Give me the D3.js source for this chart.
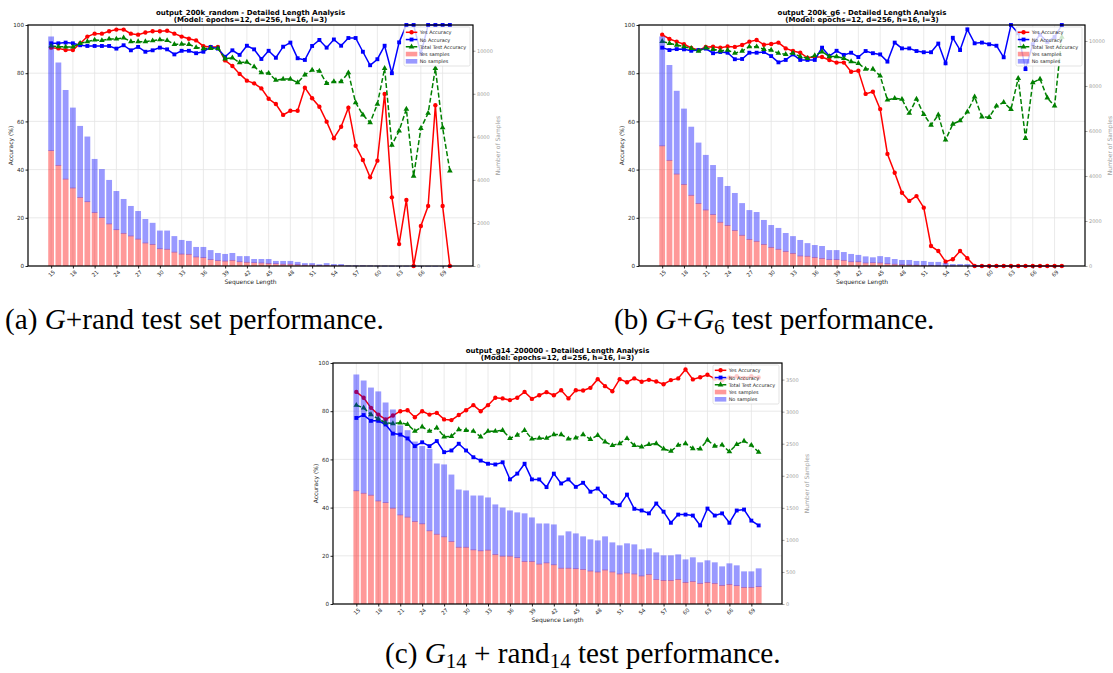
<!DOCTYPE html>
<html>
<head>
<meta charset="utf-8">
<script src="https://cdn.jsdelivr.net/npm/d3@7"></script>
<style>
  body { margin: 0; background: #fff; }
  svg { display: block; }
</style>
</head>
<body>
<svg id="fig" width="1113" height="673"></svg>
<script>
// sequence lengths (x categories)
const lengths = [15, 16, 17, 18, 19, 20, 21, 22, 23, 24, 25, 26, 27, 28, 29, 30, 31, 32, 33, 34,
  35, 36, 37, 38, 39, 40, 41, 42, 43, 44, 45, 46, 47, 48, 49, 50, 51, 52, 53, 54,
  55, 56, 57, 58, 59, 60, 61, 62, 63, 64, 65, 66, 67, 68, 69, 70];
const lengthTicks = [15, 18, 21, 24, 27, 30, 33, 36, 39, 42, 45, 48, 51, 54, 57, 60, 63, 66, 69];
const accTicks = [0, 20, 40, 60, 80, 100];

// (a) output_200k_random
const yesAccA = [90.6, 90.3, 89.6, 89.6, 92.3, 95.2, 96.4, 96.4, 97.4, 98.1,
  98.1, 96.4, 96.0, 96.9, 97.4, 97.4, 97.6, 96.4, 95.2, 94.3,
  93.6, 91.2, 90.9, 90.9, 85.3, 83.0, 79.7, 76.9, 75.8, 73.7,
  69.4, 67.2, 62.7, 64.4, 64.4, 74.0, 69.6, 66.1, 59.9, 53.0,
  57.8, 65.7, 49.9, 44.0, 36.8, 43.7, 71.4, 28.5, 9.1, 27.4,
  0, 16.6, 24.9, 66.7, 24.9, 0];
const noAccA = [92.4, 92.4, 92.7, 92.4, 91.6, 91.3, 91.3, 91.3, 91.3, 90.2,
  91.6, 89.5, 90.9, 88.9, 89.5, 90.6, 89.9, 87.8, 89.3, 89.3,
  88.3, 88.9, 90.9, 90.2, 86.8, 89.5, 87.6, 91.4, 89.9, 85.9,
  89.3, 86.4, 91.0, 92.7, 86.2, 85.5, 91.3, 93.8, 90.6, 94.0,
  91.4, 94.6, 94.6, 88.9, 83.3, 85.8, 91.4, 80.0, 92.8, 100,
  100, 88, 100, 100, 100, 100];
const totalAccA = [91.3, 91.0, 90.9, 90.9, 92.4, 93.1, 93.8, 93.6, 94.2, 94.2,
  94.7, 93.1, 93.1, 93.1, 93.5, 93.9, 93.6, 92.0, 92.1, 92.0,
  90.7, 90.2, 90.3, 90.3, 86.0, 86.4, 84.4, 84.6, 82.7, 80.2,
  80.0, 77.1, 77.6, 77.6, 76.1, 79.3, 81.3, 80.9, 75.8, 76.5,
  76.5, 80.2, 67.8, 62.7, 59.5, 67.2, 82.0, 50.2, 56.1, 65.1,
  37.3, 57.1, 63.4, 82.0, 57.4, 39.5];
const yesSamplesA = [5376, 4693, 4054, 3640, 3203, 3002, 2498, 2262, 1971, 1702,
  1534, 1411, 1266, 1086, 1019, 818, 795, 661, 571, 560,
  437, 403, 314, 269, 246, 280, 213, 190, 168, 157,
  134, 123, 101, 101, 78, 56, 56, 34, 45, 34,
  34, 11, 11, 11, 9, 7, 6, 4, 3, 3,
  2, 2, 2, 1, 1, 0];
const allSamplesA = [10662, 9453, 8176, 7358, 6507, 6014, 4973, 4502, 3998, 3483,
  3114, 2789, 2554, 2184, 2005, 1646, 1646, 1389, 1210, 1165,
  885, 885, 739, 605, 560, 605, 459, 459, 325, 325,
  325, 235, 235, 235, 190, 134, 134, 78, 134, 90,
  90, 34, 34, 34, 28, 22, 20, 17, 13, 13,
  11, 9, 9, 7, 6, 6];
const sampleTicksA = [0, 2000, 4000, 6000, 8000, 10000];

// (b) output_200k_g6
const yesAccB = [96.0, 94.2, 93.1, 92.0, 90.5, 89.6, 90.9, 91.0, 90.6, 91.1,
  90.9, 91.7, 93.1, 93.8, 91.8, 92.1, 92.7, 90.3, 89.2, 88.5,
  86.4, 86.7, 86.7, 85.5, 84.4, 84.4, 80.6, 81.0, 71.4, 72.3,
  65.1, 46.5, 38.7, 30.4, 27.0, 29.0, 24.2, 8.3, 6.2, 1.8,
  2.8, 6.2, 3.2, 0, 0, 0, 0, 0, 0, 0,
  0, 0, 0, 0, 0, 0];
const noAccB = [90.6, 89.6, 90.0, 89.9, 89.3, 89.6, 90.2, 88.3, 88.8, 88.5,
  85.8, 85.9, 88.5, 88.5, 88.8, 87.1, 84.5, 85.5, 87.8, 85.5,
  85.5, 85.5, 90.6, 87.1, 89.3, 87.6, 88.5, 86.7, 89.2, 88.3,
  87.8, 84.8, 92.7, 90.3, 90.3, 89.2, 88.7, 88.7, 92.3, 84.1,
  94.7, 89.6, 98.2, 92.4, 92.7, 92.0, 91.4, 86.6, 100, 96.6,
  81.7, 92, 96, 93, 95, 100];
const totalAccB = [93.2, 92.4, 91.7, 91.0, 90.3, 89.2, 90.5, 89.9, 89.3, 89.6,
  88.3, 89.2, 91.0, 91.0, 89.9, 89.6, 88.3, 87.8, 88.3, 86.9,
  86.2, 87.3, 88.9, 86.9, 86.9, 86.2, 84.8, 84.1, 81.7, 81.7,
  78.9, 68.9, 69.6, 69.2, 63.4, 69.3, 62.9, 58.5, 62.7, 52.3,
  58.9, 60.3, 64.0, 70.2, 61.9, 61.7, 66.4, 67.9, 65.0, 77.9,
  53.0, 76.1, 77.6, 69.8, 66.4, 95];
const yesSamplesB = [5355, 4712, 4102, 3641, 3159, 2795, 2506, 2303, 1960, 1821,
  1596, 1382, 1200, 1114, 975, 846, 760, 664, 578, 461,
  450, 396, 353, 300, 300, 268, 203, 203, 150, 161,
  150, 118, 96, 75, 64, 54, 43, 32, 21, 16,
  11, 11, 5, 0, 0, 0, 0, 0, 0, 0,
  0, 0, 0, 0, 0, 0];
const allSamplesB = [10200, 8932, 7786, 6994, 6190, 5484, 4937, 4487, 3952, 3556,
  3245, 2795, 2485, 2399, 2046, 1821, 1692, 1467, 1328, 1157,
  1017, 932, 889, 707, 707, 621, 536, 493, 428, 386,
  439, 396, 311, 268, 268, 225, 225, 182, 182, 129,
  86, 86, 86, 43, 32, 27, 21, 18, 15, 13,
  11, 9, 6, 5, 4, 3];
const sampleTicksB = [0, 2000, 4000, 6000, 8000, 10000];

// (c) output_g14_200000
const yesAccC = [88.0, 85.6, 81.4, 78.6, 76.6, 78.2, 80.0, 80.4, 77.5, 80.0,
  78.6, 79.3, 76.6, 76.3, 78.4, 80.4, 82.5, 80.0, 82.5, 85.6,
  85.3, 84.6, 85.6, 88.0, 85.1, 86.6, 87.9, 86.6, 88.7, 85.3,
  88.7, 88.6, 89.7, 93.3, 90.4, 88.3, 93.3, 92.0, 93.6, 92.2,
  93.0, 92.3, 91.2, 92.9, 93.6, 97.3, 93.2, 94.1, 95.1, 93.5,
  92.8, 94.0, 94.5, 93.8, 94.5, 94.0];
const noAccC = [77.2, 78.4, 76.0, 76.0, 74.5, 70.7, 70.3, 68.7, 65.5, 67.1,
  65.5, 67.6, 63.0, 63.7, 66.5, 63.7, 60.9, 59.5, 58.2, 57.9,
  58.8, 51.7, 54.1, 58.2, 51.7, 51.7, 48.5, 54.1, 50.0, 51.7,
  48.6, 50.3, 46.6, 47.9, 44.7, 42.0, 41.0, 45.4, 39.5, 38.8,
  37.6, 41.7, 38.3, 33.7, 37.1, 37.1, 36.7, 32.6, 39.6, 36.7,
  37.6, 33.7, 38.8, 39.2, 34.6, 32.6];
const totalAccC = [82.5, 81.4, 78.6, 76.8, 75.2, 74.9, 75.2, 74.5, 71.7, 73.5,
  71.7, 73.1, 69.4, 69.6, 72.4, 72.1, 71.7, 69.4, 71.7, 71.7,
  72.1, 68.7, 70.1, 72.1, 68.5, 68.8, 68.8, 70.3, 70.3, 68.5,
  68.9, 70.3, 68.3, 70.0, 67.3, 65.8, 66.6, 68.7, 65.8, 65.2,
  66.2, 66.6, 64.4, 63.4, 65.9, 66.6, 64.5, 64.4, 68.0, 65.5,
  66.0, 63.2, 66.2, 67.6, 65.9, 63.0];
const yesSamplesC = [1771, 1733, 1703, 1613, 1587, 1500, 1395, 1361, 1293, 1256,
  1147, 1094, 1053, 981, 891, 891, 850, 835, 846, 778,
  752, 752, 729, 669, 669, 628, 647, 617, 564, 564,
  556, 545, 520, 505, 536, 505, 474, 489, 474, 443,
  467, 389, 374, 374, 389, 343, 358, 327, 343, 327,
  296, 312, 291, 265, 265, 276];
const allSamplesC = [3580, 3486, 3376, 3316, 3143, 3034, 2786, 2711, 2534, 2463,
  2421, 2192, 2177, 2019, 1786, 1771, 1692, 1692, 1662, 1553,
  1504, 1459, 1429, 1414, 1350, 1256, 1256, 1241, 1070, 1133,
  1101, 1055, 1008, 992, 1055, 961, 915, 946, 930, 852,
  868, 805, 759, 759, 774, 696, 728, 650, 681, 650,
  587, 634, 603, 509, 509, 556];
const sampleTicksC = [0, 500, 1000, 1500, 2000, 2500, 3000, 3500];

const modelLine = '(Model: epochs=12, d=256, h=16, l=3)';
const legendLabels = ['Yes Accuracy', 'No Accuracy', 'Total Test Accuracy', 'Yes samples', 'No samples'];

const FONT = '"DejaVu Sans", sans-serif';
const SERIF = '"Liberation Serif", "Times New Roman", serif';
const RED = '#ff0000';
const BLUE = '#0000ff';
const GREEN = '#008000';

const svg = d3.select('#fig');
svg.append('rect').attr('width', 1113).attr('height', 673).attr('fill', '#fff');

const markerPath = (type, size) => d3.symbol().type(type).size(size)();

const drawPanel = (p) => {
  const {left, right, top, bottom} = p.box;
  const g = svg.append('g');
  const half = 0.4;
  const first = lengths[0] - half;
  const last = lengths[lengths.length - 1] + half;
  const pad = 0.05 * (last - first);

  const x = d3.scaleLinear().domain([first - pad, last + pad]).range([left, right]);
  const yAcc = d3.scaleLinear().domain([0, 100]).range([bottom, top]);
  const ySamples = d3.scaleLinear().domain([0, d3.max(p.allSamples) * 1.05]).range([bottom, top]);

  // grid
  g.append('g').selectAll('line').data(lengthTicks).join('line')
    .attr('x1', (d) => x(d)).attr('x2', (d) => x(d))
    .attr('y1', top).attr('y2', bottom)
    .attr('stroke', '#e4e4e4').attr('stroke-width', 0.8);
  g.append('g').selectAll('line').data(accTicks).join('line')
    .attr('x1', left).attr('x2', right)
    .attr('y1', (d) => yAcc(d)).attr('y2', (d) => yAcc(d))
    .attr('stroke', '#e4e4e4').attr('stroke-width', 0.8);

  // accuracy lines
  const series = [
    {values: p.yesAcc, color: RED, dash: null, type: d3.symbolCircle, size: 15},
    {values: p.noAcc, color: BLUE, dash: null, type: d3.symbolSquare, size: 15},
    {values: p.totalAcc, color: GREEN, dash: '5,2.4', type: d3.symbolTriangle, size: 14},
  ];
  const line = d3.line().x((d) => x(d[0])).y((d) => yAcc(d[1]));

  series.forEach((s) => {
    const pts = lengths.map((len, i) => [len, s.values[i]]);
    g.append('path')
      .datum(pts)
      .attr('d', line)
      .attr('fill', 'none')
      .attr('stroke', s.color)
      .attr('stroke-width', 1.5)
      .attr('stroke-dasharray', s.dash);
    g.append('g').selectAll('path').data(pts).join('path')
      .attr('transform', (d) => `translate(${x(d[0])},${yAcc(d[1])})`)
      .attr('d', markerPath(s.type, s.size))
      .attr('fill', s.color);
  });

  // sample bars (twin axis, drawn over the lines)
  const bars = g.append('g');
  bars.selectAll('rect.yes').data(lengths).join('rect')
    .attr('class', 'yes')
    .attr('x', (d) => x(d - half))
    .attr('width', x(half) - x(-half))
    .attr('y', (d, i) => ySamples(p.yesSamples[i]))
    .attr('height', (d, i) => bottom - ySamples(p.yesSamples[i]))
    .attr('fill', RED).attr('fill-opacity', 0.4);
  bars.selectAll('rect.no').data(lengths).join('rect')
    .attr('class', 'no')
    .attr('x', (d) => x(d - half))
    .attr('width', x(half) - x(-half))
    .attr('y', (d, i) => ySamples(p.allSamples[i]))
    .attr('height', (d, i) => Math.max(0, ySamples(p.yesSamples[i]) - ySamples(p.allSamples[i]) + 0.7))
    .attr('fill', BLUE).attr('fill-opacity', 0.4);

  // axes
  const axL = g.append('g').attr('transform', `translate(${left},0)`)
    .call(d3.axisLeft(yAcc).tickValues(accTicks).tickSize(2.5).tickPadding(1.5));
  axL.select('.domain').remove();
  axL.attr('font-size', 5.6).attr('font-family', FONT).attr('color', '#262626');

  const axR = g.append('g').attr('transform', `translate(${right},0)`)
    .call(d3.axisRight(ySamples).tickValues(p.sampleTicks).tickSize(2.5).tickPadding(1.5)
      .tickFormat(d3.format('d')));
  axR.select('.domain').remove();
  axR.attr('font-size', 5).attr('font-family', FONT).attr('color', '#a0a0a0');

  const axB = g.append('g').attr('transform', `translate(0,${bottom})`)
    .call(d3.axisBottom(x).tickValues(lengthTicks).tickSize(2.5).tickFormat(d3.format('d')));
  axB.select('.domain').remove();
  axB.attr('font-size', 5.4).attr('font-family', FONT).attr('color', '#262626');
  axB.selectAll('text')
    .attr('y', 0).attr('dy', null)
    .attr('text-anchor', 'middle')
    .attr('dominant-baseline', 'central')
    .attr('transform', 'translate(0,7.5) rotate(-45)');

  // frame
  g.append('rect')
    .attr('x', left).attr('y', top)
    .attr('width', right - left).attr('height', bottom - top)
    .attr('fill', 'none').attr('stroke', '#000').attr('stroke-width', 1.2);

  // labels
  g.append('text')
    .attr('transform', `translate(${left - 18},${(top + bottom) / 2}) rotate(-90)`)
    .attr('text-anchor', 'middle').attr('dominant-baseline', 'central')
    .attr('font-family', FONT).attr('font-size', 6).attr('fill', '#262626')
    .text('Accuracy (%)');
  g.append('text')
    .attr('transform', `translate(${right + 24},${(top + bottom) / 2}) rotate(-90)`)
    .attr('text-anchor', 'middle').attr('dominant-baseline', 'central')
    .attr('font-family', FONT).attr('font-size', 6).attr('fill', '#a0a0a0')
    .text('Number of Samples');
  g.append('text')
    .attr('x', (left + right) / 2).attr('y', bottom + 18)
    .attr('text-anchor', 'middle')
    .attr('font-family', FONT).attr('font-size', 6).attr('fill', '#262626')
    .text('Sequence Length');

  // title
  [p.title, modelLine].forEach((t, i) => {
    g.append('text')
      .attr('x', (left + right) / 2).attr('y', top - 10.5 + i * 7.6)
      .attr('text-anchor', 'middle')
      .attr('font-family', FONT).attr('font-size', 7).attr('font-weight', 'bold')
      .attr('fill', '#000')
      .text(t);
  });

  // legend
  const lw = 66;
  const lx = right - 3 - lw;
  const ly = top + 2;
  const lg = g.append('g');
  lg.append('rect')
    .attr('x', lx).attr('y', ly).attr('width', lw).attr('height', 39)
    .attr('rx', 1.5)
    .attr('fill', '#fff').attr('fill-opacity', 0.8)
    .attr('stroke', '#d0d0d0').attr('stroke-width', 0.6);
  legendLabels.forEach((label, i) => {
    const cy = ly + 5.3 + i * 7.25;
    const hx0 = lx + 1.8;
    const hx1 = lx + 13.3;
    if (i < 3) {
      const s = series[i];
      lg.append('line')
        .attr('x1', hx0).attr('x2', hx1).attr('y1', cy).attr('y2', cy)
        .attr('stroke', s.color).attr('stroke-width', 1.5)
        .attr('stroke-dasharray', s.dash);
      lg.append('path')
        .attr('transform', `translate(${(hx0 + hx1) / 2},${cy})`)
        .attr('d', markerPath(s.type, s.size))
        .attr('fill', s.color);
    } else {
      lg.append('rect')
        .attr('x', hx0).attr('y', cy - 2.3)
        .attr('width', hx1 - hx0).attr('height', 4.6)
        .attr('fill', i === 3 ? RED : BLUE).attr('fill-opacity', 0.4);
    }
    lg.append('text')
      .attr('x', lx + 15.7).attr('y', cy)
      .attr('dominant-baseline', 'central')
      .attr('font-family', FONT).attr('font-size', 4.9).attr('fill', '#222')
      .text(label);
  });
};

const panels = [
  {
    box: {left: 28, right: 473, top: 25, bottom: 266},
    title: 'output_200k_random - Detailed Length Analysis',
    yesAcc: yesAccA, noAcc: noAccA, totalAcc: totalAccA,
    yesSamples: yesSamplesA, allSamples: allSamplesA, sampleTicks: sampleTicksA,
  },
  {
    box: {left: 639, right: 1085, top: 25, bottom: 266},
    title: 'output_200k_g6 - Detailed Length Analysis',
    yesAcc: yesAccB, noAcc: noAccB, totalAcc: totalAccB,
    yesSamples: yesSamplesB, allSamples: allSamplesB, sampleTicks: sampleTicksB,
  },
  {
    box: {left: 333, right: 782, top: 363, bottom: 604},
    title: 'output_g14_200000 - Detailed Length Analysis',
    yesAcc: yesAccC, noAcc: noAccC, totalAcc: totalAccC,
    yesSamples: yesSamplesC, allSamples: allSamplesC, sampleTicks: sampleTicksC,
  },
];

panels.forEach(drawPanel);

// captions
const caption = (x, y, parts) => {
  const t = svg.append('text')
    .attr('x', x).attr('y', y)
    .attr('font-family', SERIF).attr('font-size', 29.2).attr('fill', '#000');
  parts.forEach((part) => {
    const ts = t.append('tspan').text(part.text);
    if (part.italic) ts.attr('font-style', 'italic');
    if (part.sub) ts.attr('font-size', 21).attr('dy', 4.5);
    if (part.up) ts.attr('dy', -4.5);
  });
};

caption(5, 329, [
  {text: '(a) '}, {text: 'G', italic: true}, {text: '+rand test set performance.'},
]);
caption(614, 329, [
  {text: '(b) '}, {text: 'G', italic: true}, {text: '+'}, {text: 'G', italic: true},
  {text: '6', sub: true}, {text: ' test performance.', up: true},
]);
caption(385, 663, [
  {text: '(c) '}, {text: 'G', italic: true}, {text: '14', sub: true},
  {text: ' + rand', up: true}, {text: '14', sub: true}, {text: ' test performance.', up: true},
]);
</script>
</body>
</html>
